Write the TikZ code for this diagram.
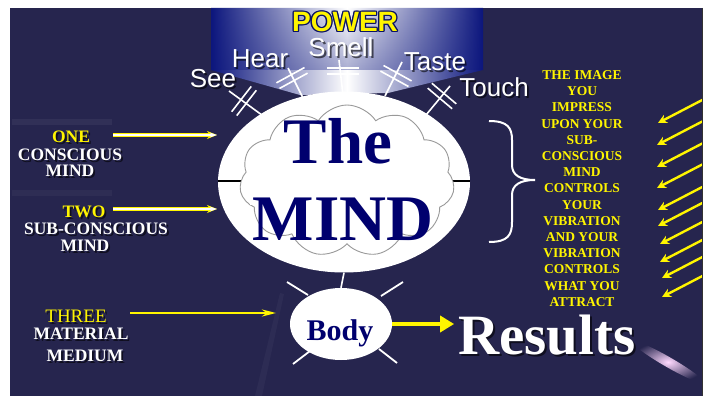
\documentclass[tikz,border=0pt]{standalone}
\usepackage{fontspec}
\setmainfont{Liberation Serif}
\newfontfamily\sensefont{Liberation Sans}
\usetikzlibrary{shapes.geometric,shapes.symbols,arrows.meta,calc,fadings}
\definecolor{slidebg}{RGB}{38,37,78}
\definecolor{mindblue}{RGB}{0,0,110}
\definecolor{beamblue}{RGB}{12,22,125}
\definecolor{sunyellow}{RGB}{255,245,0}
\newcommand{\fsz}[1]{\fontsize{#1}{#1}\selectfont}
\newcommand{\shlabel}[4]{% name, position x,y, style, text
  \node[#3, text=black, opacity=0.6, xshift=1.8pt, yshift=-1.8pt] at (#2) {#4};
  \node[#3] (#1) at (#2) {#4};}
\newcommand{\senseline}[3]{% outer, inner, crossing
  \coordinate (sA) at #1; \coordinate (sB) at #2; \coordinate (sM) at #3;
  \draw[senseln] (sA) -- (sB);
  \coordinate (sP) at ($(sM)!3.2pt!(sB)$);
  \coordinate (sQ) at ($(sM)!-3.2pt!(sB)$);
  \draw[senseln] ($(sP)!16pt!90:(sB)$) -- ($(sP)!16pt!-90:(sB)$);
  \draw[senseln] ($(sQ)!16pt!90:(sB)$) -- ($(sQ)!16pt!-90:(sB)$);}
\begin{document}
\begin{tikzpicture}[x=1pt,y=-1pt,
  senseln/.style={white, line width=1.6},
  sensetxt/.style={font=\sensefont\fsz{26}, text=white, inner sep=0},
  lefttxt/.style={font=\bfseries\fsz{17.5}, text=white, inner sep=0},
  leftyel/.style={font=\bfseries\fsz{17.5}, text=sunyellow, inner sep=0},
  ray/.style={white, line width=1.8},
  yarrow/.style={sunyellow, line width=2.4, -{Stealth[length=9pt,width=9pt]}},
  warrowout/.style={sunyellow, line width=3.2, -{Stealth[length=10pt,width=8pt]}},
  warrowin/.style={white, line width=1.2, -{Stealth[length=7pt,width=4.5pt]}},
]
\useasboundingbox (0,0) rectangle (713,396);
\fill[white] (0,0) rectangle (713,396);
\fill[slidebg] (10,8) rectangle (703,396);
\begin{scope}
  \clip (10,8) rectangle (702,396);
  % faint background streaks
  \fill[white, opacity=0.05] (12,119) rectangle (112,125);
  \fill[white, opacity=0.04] (12,190) rectangle (112,196);
  \shade[inner color=white!85!magenta, outer color=slidebg, rotate around={-30:(668,362)}]
    (668,362) ellipse [x radius=42, y radius=5];
  \fill[white, opacity=0.035] (280,293) -- (284,294) -- (262,396) -- (255,396) -- cycle;
  % arrows on the right
  \foreach \tx/\ty in {658/123,657/145,657/167,657/188,658/210,658/226,660/244,660/262,662/278,662/297}{
    \coordinate (rt) at (\tx,\ty);
    \draw[yarrow] ([shift={(50,-26)}]rt) -- (rt);
  }
\end{scope}
% dark right edge
\draw[black!80, line width=1.5] (702.5,8) -- (702.5,396);

% power beam
\shade[left color=beamblue, right color=beamblue, middle color=white]
  (211,8) -- (483,8) -- (483,70) -- (388,93) -- (300,95) -- (211,70) -- cycle;
\fill[beamblue, opacity=0.35, path fading=north]
  (211,8) -- (483,8) -- (483,70) -- (211,70) -- cycle;
% POWER
\foreach \dx/\dy in {-1.3/0,1.3/0,0/-1.3,0/1.3,-1/-1,1/1,-1/1,1/-1}{
  \node[font=\sensefont\bfseries\fsz{28}, text=beamblue!80!black, inner sep=0] at (345+\dx,22+\dy) {POWER};
}
\node[font=\sensefont\bfseries\fsz{28}, text=sunyellow, inner sep=0] (power) at (345,22) {POWER};

% sense words
\shlabel{see}{213,79}{sensetxt}{See}
\shlabel{hear}{260,59}{sensetxt}{Hear}
\shlabel{smell}{341,47}{sensetxt}{Smell}
\shlabel{taste}{435,62}{sensetxt}{Taste}
\shlabel{touch}{494,87}{sensetxt}{Touch}

% sense connectors
\senseline{(229,91)}{(266,118)}{(244,101)}
\senseline{(288,68)}{(304,100)}{(292,78)}
\senseline{(339,60)}{(343,95)}{(343,71)}
\senseline{(402,62)}{(385,96)}{(396,76)}
\senseline{(450,86)}{(426,115)}{(442,96)}

% the mind
\node[ellipse, fill=white, minimum width=252, minimum height=181, inner sep=0] (mind) at (344,182) {};
\draw[black, line width=1.3] (218,181) -- (470,181);
\node[cloud, cloud puffs=11, cloud puff arc=115, aspect=1.4, draw=gray!80, line width=0.9, fill=white,
  minimum width=215, minimum height=152, inner sep=0] (cloud) at (347,181) {};
\fill[white] (250,153) rectangle (433,205);
\node[font=\bfseries\fsz{65}, text=mindblue, anchor=base, inner sep=0] (the) at (338,163) {The};
\node[font=\bfseries\fsz{65}, text=mindblue, anchor=base, inner sep=0] (mindtxt) at (343,240) {MIND};

% body
\node[ellipse, fill=white, minimum width=102, minimum height=72, inner sep=0] (body) at (341,324) {};
\node[font=\bfseries\fsz{30}, text=mindblue, anchor=base, inner sep=0] (bodytxt) at (340,340) {Body};
\draw[white, line width=1.6] (mind.south) -- (body.north);
\draw[ray] (287,282) -- (308,295);
\draw[ray] (403,282) -- (381,296);
\draw[ray] (293,364) -- (310,351);
\draw[ray] (397,363) -- (379,349);

% results
\shlabel{results}{547,335}{font=\bfseries\fsz{57}, text=white, inner sep=0}{Results}
\draw[sunyellow, line width=4, -{Triangle[length=14pt,width=16pt]}] (body.east) -- ([xshift=-4pt]body.east -| results.west);

% left labels
\shlabel{one}{71,137}{leftyel}{ONE}
\shlabel{conscious}{70,155}{lefttxt}{CONSCIOUS}
\shlabel{mindone}{70,171}{lefttxt}{MIND}
\shlabel{two}{84,212}{leftyel}{TWO}
\shlabel{subconscious}{96,229}{lefttxt}{SUB-CONSCIOUS}
\shlabel{mindtwo}{85,246}{lefttxt}{MIND}
\shlabel{three}{76,316}{font=\fsz{19}, text=sunyellow, inner sep=0}{THREE}
\shlabel{material}{81,334}{lefttxt}{MATERIAL}
\shlabel{medium}{85,356}{lefttxt}{MEDIUM}

\coordinate (a1s) at (113,135); \coordinate (a1e) at (217,135);
\coordinate (a2s) at (113,209); \coordinate (a2e) at (217,209);
\draw[warrowout] (a1s) -- (a1e);
\draw[warrowin] (a1s) -- (a1e);
\draw[warrowout] (a2s) -- (a2e);
\draw[warrowin] (a2s) -- (a2e);
\coordinate (a3s) at (130,313); \coordinate (a3e) at (276,313);
\draw[sunyellow, line width=2.6, -{Stealth[length=14pt,width=7pt,fill=white]}] (a3s) -- (a3e);

% brace
\draw[white, line width=2] (489,121) .. controls (508,121) and (512,128) .. (512,140)
  -- (512,165) .. controls (512,175) and (520,180) .. (535,180)
  .. controls (520,180) and (512,185) .. (512,195)
  -- (512,222) .. controls (512,235) and (508,242) .. (489,242);

% right text
\node[font=\bfseries\fontsize{13.5}{16.2}\selectfont, text=sunyellow, align=center, inner sep=0] (statement) at (582,188.5)
  {THE IMAGE\\YOU\\IMPRESS\\UPON YOUR\\SUB-\\CONSCIOUS\\MIND\\CONTROLS\\YOUR\\VIBRATION\\AND YOUR\\VIBRATION\\CONTROLS\\WHAT YOU\\ATTRACT};
\end{tikzpicture}
\end{document}
